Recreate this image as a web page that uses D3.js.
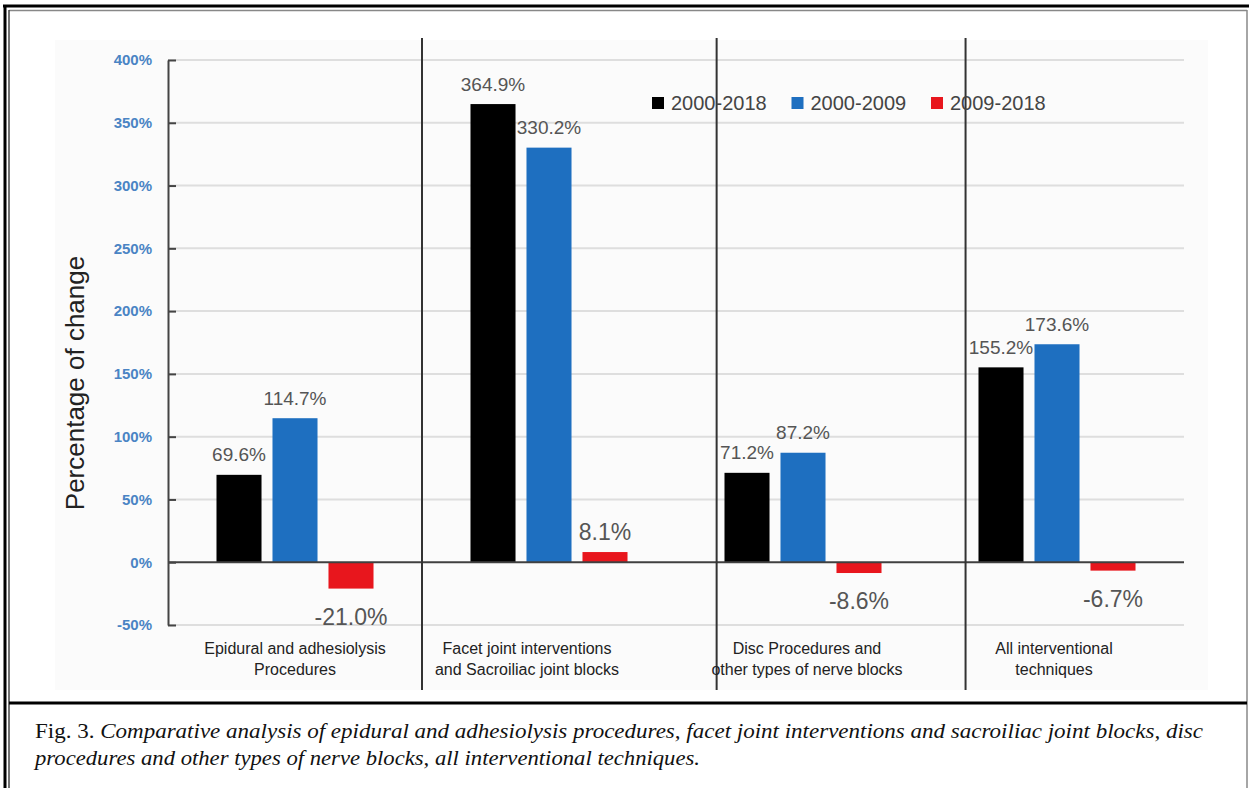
<!DOCTYPE html>
<html>
<head>
<meta charset="utf-8">
<script src="https://cdn.jsdelivr.net/npm/d3@7"></script>
<style>
  html, body { margin: 0; padding: 0; background: #ffffff; }
  svg { display: block; }
</style>
</head>
<body>
<div id="chart"></div>
<script>
// ---------------- data ----------------
const categories = [
  "Epidural and adhesiolysis Procedures",
  "Facet joint interventions and Sacroiliac joint blocks",
  "Disc Procedures and other types of nerve blocks",
  "All interventional techniques"
];
const categoryLines = [
  ["Epidural and adhesiolysis", "Procedures"],
  ["Facet joint interventions", "and Sacroiliac joint blocks"],
  ["Disc Procedures and", "other types of nerve blocks"],
  ["All interventional", "techniques"]
];
const seriesNames = ["2000-2018", "2000-2009", "2009-2018"];
const values2000_2018 = [69.6, 364.9, 71.2, 155.2];
const values2000_2009 = [114.7, 330.2, 87.2, 173.6];
const values2009_2018 = [-21.0, 8.1, -8.6, -6.7];
const yTickValues = [-50, 0, 50, 100, 150, 200, 250, 300, 350, 400];
const seriesColors = ["#000000", "#1e6fc0", "#e8161d"];
const captionLine1 = "Comparative analysis of  epidural and adhesiolysis procedures, facet joint interventions and sacroiliac joint blocks, disc";
const captionLine2 = "procedures and other types of  nerve blocks, all interventional techniques.";

// ---------------- layout ----------------
const W = 1249, H = 788;
const plot = { left: 168, right: 1184, top: 60, bottom: 625 };
const separatorSteps = [1.0, 2.16, 3.14];   // in band-step units from plot left
const labelShift = [0, -22, 4, -3];

const svg = d3.select("#chart").append("svg")
  .attr("width", W).attr("height", H)
  .attr("viewBox", `0 0 ${W} ${H}`);

// chart image background
svg.append("rect").attr("x", 55).attr("y", 40).attr("width", 1153).attr("height", 650)
  .attr("fill", "#fbfbfb");

// scales
const x = d3.scaleBand().domain(categories).range([plot.left, plot.right]).padding(0);
const x1 = d3.scaleBand().domain(seriesNames).range([0, x.bandwidth()])
  .paddingInner(0.196).paddingOuter(0.866);
const y = d3.scaleLinear().domain([-50, 400]).range([plot.bottom, plot.top]);

// gridlines
svg.append("g").selectAll("line").data(yTickValues.filter(d => d !== 0)).join("line")
  .attr("x1", plot.left).attr("x2", plot.right)
  .attr("y1", d => y(d)).attr("y2", d => y(d))
  .attr("stroke", "#dedede").attr("stroke-width", 2);

// bars
const seriesData = [values2000_2018, values2000_2009, values2009_2018];
const rows = [];
categories.forEach((c, i) => seriesNames.forEach((s, j) => rows.push({ c, s, j, v: seriesData[j][i] })));

svg.append("g").selectAll("rect").data(rows).join("rect")
  .attr("x", d => x(d.c) + x1(d.s))
  .attr("width", x1.bandwidth())
  .attr("y", d => y(Math.max(0, d.v)))
  .attr("height", d => Math.abs(y(d.v) - y(0)))
  .attr("fill", d => seriesColors[d.j]);

// zero line
svg.append("line").attr("x1", plot.left).attr("x2", plot.right)
  .attr("y1", y(0)).attr("y2", y(0))
  .attr("stroke", "#404040").attr("stroke-width", 2);

// y axis
const yAxis = svg.append("g").attr("transform", `translate(${plot.left},0)`)
  .call(d3.axisLeft(y).tickValues(yTickValues).tickFormat(d => d + "%")
    .tickSizeInner(-8).tickSizeOuter(0).tickPadding(16));
yAxis.select(".domain").attr("stroke", "#444").attr("stroke-width", 2);
yAxis.selectAll(".tick line").attr("stroke", "#444").attr("stroke-width", 2);
yAxis.selectAll(".tick text")
  .attr("fill", "#4a84c4").attr("font-family", "'Liberation Sans', Arial, sans-serif")
  .attr("font-size", 15).attr("font-weight", "bold");

// separators
svg.append("g").selectAll("line").data(separatorSteps).join("line")
  .attr("x1", d => plot.left + d * x.step()).attr("x2", d => plot.left + d * x.step())
  .attr("y1", 38).attr("y2", 690)
  .attr("stroke", "#333").attr("stroke-width", 2);

// value labels (plain hyphen for negatives, as in the reference)
const fmt = d => d.toFixed(1) + "%";
svg.append("g").selectAll("text").data(rows).join("text")
  .attr("x", d => x(d.c) + x1(d.s) + x1.bandwidth() / 2)
  .attr("y", d => d.v >= 0 ? y(d.v) - 20 : y(d.v) + 28)
  .attr("text-anchor", "middle")
  .attr("dominant-baseline", "central")
  .attr("font-family", "'Liberation Sans', Arial, sans-serif")
  .attr("font-size", d => d.j === 2 ? 23 : 19)
  .attr("fill", "#555")
  .text(d => fmt(d.v));

// category labels
const cat = svg.append("g").selectAll("text").data(categories).join("text")
  .attr("text-anchor", "middle")
  .attr("font-family", "'Liberation Sans', Arial, sans-serif")
  .attr("font-size", 16)
  .attr("fill", "#222");
cat.each(function (d, i) {
  const cx = x(d) + x.bandwidth() / 2 + labelShift[i];
  d3.select(this).selectAll("tspan").data(categoryLines[i]).join("tspan")
    .attr("x", cx).attr("y", (t, k) => 654 + k * 21).text(t => t);
});

// y axis title
svg.append("text")
  .attr("transform", `translate(75,383) rotate(-90)`)
  .attr("text-anchor", "middle").attr("dominant-baseline", "central")
  .attr("font-family", "'Liberation Sans', Arial, sans-serif")
  .attr("font-size", 26).attr("fill", "#222")
  .text("Percentage of change");

// legend
const legend = svg.append("g").selectAll("g").data(seriesNames).join("g")
  .attr("transform", (d, i) => `translate(${652 + i * 139.5},103)`);
legend.append("rect").attr("x", 0).attr("y", -6).attr("width", 12).attr("height", 12)
  .attr("fill", (d, i) => seriesColors[i]);
legend.append("text").attr("x", 19).attr("y", 0).attr("dominant-baseline", "central")
  .attr("font-family", "'Liberation Sans', Arial, sans-serif")
  .attr("font-size", 20).attr("fill", "#444")
  .text(d => d);

// frame
const frame = svg.append("g").attr("fill", "none");
frame.append("line").attr("x1", 3).attr("x2", W).attr("y1", 6).attr("y2", 6).attr("stroke", "#000").attr("stroke-width", 3);
frame.append("line").attr("x1", 5).attr("x2", 5).attr("y1", 5).attr("y2", H).attr("stroke", "#000").attr("stroke-width", 3);
frame.append("line").attr("x1", 9).attr("x2", 1247).attr("y1", 10.5).attr("y2", 10.5).attr("stroke", "#888").attr("stroke-width", 1.5);
frame.append("line").attr("x1", 9).attr("x2", 9).attr("y1", 10).attr("y2", H).attr("stroke", "#444").attr("stroke-width", 1.5);
frame.append("line").attr("x1", 1247).attr("x2", 1247).attr("y1", 10).attr("y2", H).attr("stroke", "#888").attr("stroke-width", 1.5);
frame.append("line").attr("x1", 9).attr("x2", 1247).attr("y1", 703).attr("y2", 703).attr("stroke", "#000").attr("stroke-width", 3);

// caption
const cap1 = svg.append("text").attr("x", 35).attr("y", 738)
  .attr("font-family", "'Liberation Serif', 'Times New Roman', serif")
  .attr("font-size", 22).attr("fill", "#111")
  .attr("textLength", 1168).attr("lengthAdjust", "spacingAndGlyphs");
cap1.append("tspan").text("Fig. 3. ");
cap1.append("tspan").attr("font-style", "italic").text(captionLine1);
svg.append("text").attr("x", 35).attr("y", 765)
  .attr("font-family", "'Liberation Serif', 'Times New Roman', serif")
  .attr("font-size", 22).attr("font-style", "italic").attr("fill", "#111")
  .attr("textLength", 665).attr("lengthAdjust", "spacingAndGlyphs")
  .text(captionLine2);
</script>
</body>
</html>
